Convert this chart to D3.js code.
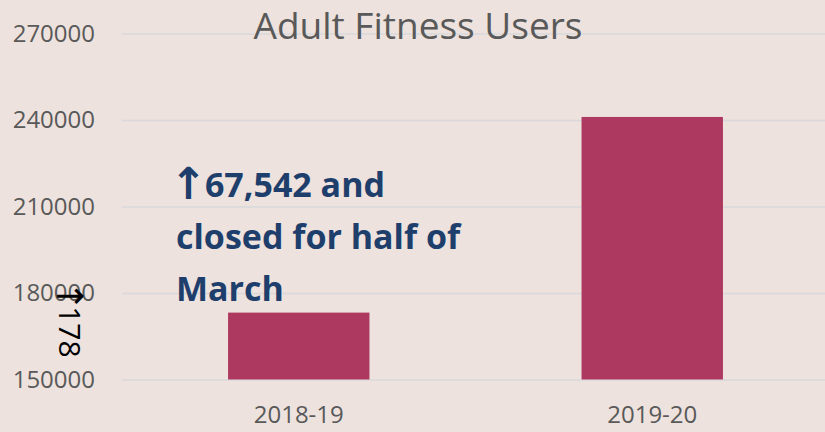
<!DOCTYPE html>
<html>
<head>
<meta charset="utf-8">
<script src="https://cdn.jsdelivr.net/npm/d3@7"></script>
<style>
  html, body { margin:0; padding:0; background:#ede2dd; }
  svg { display:block; font-family:"Open Sans", sans-serif; }
</style>
</head>
<body>
<svg class="chart"></svg>
<script>
// data
var categories = ['2018-19','2019-20'];
var users = [173200, 241050];
var yTicks = [150000,180000,210000,240000,270000];
var titleText = 'Adult Fitness Users';
var noteLines = ['67,542 and','closed for half of','March'];
var sideNote = '178';

var svgwidth = 825;
var svgheight = 432;

var margins = {
  top:33.5,
  bottom:52.5,
  left:122,
  right:-4
};

var width = svgwidth - margins.left - margins.right;
var height = svgheight - margins.top - margins.bottom;

var svg = d3.select('.chart').attr('width',svgwidth).attr('height',svgheight);

svg.append('rect').attr('width',svgwidth).attr('height',svgheight).attr('fill','#ede2dd');

var xscale = d3.scaleBand().domain(categories).range([0,width]).padding(0);
var yscale = d3.scaleLinear().domain([150000,270000]).range([height,0]);

var plot = svg.append('g')
              .attr('transform','translate('+margins.left+','+margins.top+')');

// gridlines + y labels
var yaxis = plot.append('g').classed('yaxis',true)
                .call(d3.axisLeft(yscale).tickValues(yTicks).tickSize(-width).tickPadding(27).tickFormat(d3.format('d')));
yaxis.select('.domain').remove();
yaxis.selectAll('line').attr('stroke','#d9d8dc').attr('stroke-width',1.5);
yaxis.selectAll('text')
     .attr('fill','#595959')
     .style('font-size','24px')
     .style('font-family','"Open Sans", sans-serif');

// bars
var barw = xscale.bandwidth()*0.4;
plot.selectAll('.bar').data(users).enter().append('rect')
    .classed('bar',true)
    .attr('x',function(d,i){ return xscale(categories[i]) + xscale.bandwidth()/2 - barw/2; })
    .attr('y',function(d){ return yscale(d); })
    .attr('width',barw)
    .attr('height',function(d){ return yscale(150000) - yscale(d); })
    .attr('fill','#ae3960');

// x labels
var xaxis = plot.append('g').classed('xaxis',true)
                .attr('transform','translate(0,'+height+')')
                .call(d3.axisBottom(xscale).tickSize(0).tickPadding(26));
xaxis.select('.domain').remove();
xaxis.selectAll('text')
     .attr('fill','#595959')
     .style('font-size','24px')
     .style('font-family','"Open Sans", sans-serif');

// title
svg.append('text')
   .attr('x',418)
   .attr('y',39)
   .attr('text-anchor','middle')
   .attr('fill','#595959')
   .style('font-size','37px')
   .text(titleText);

// annotation
var note = svg.append('g').selectAll('text').data(noteLines).enter().append('text')
   .attr('x',176)
   .attr('y',function(d,i){ return 197 + i*52; })
   .attr('fill','#1e3e6c')
   .style('font-size','34px')
   .style('font-weight','bold');
note.each(function(d,i){
  var t = d3.select(this);
  if(i==0){
    t.append('tspan').style('font-family','"DejaVu Sans", sans-serif').style('font-size','44px')
     .attr('dx',-6).attr('dy',2).text('\u2191');
    t.append('tspan').attr('dx',-2).attr('dy',-2).text(d);
  } else {
    t.text(d);
  }
});

// rotated side note
var side = svg.append('text')
   .attr('transform','translate(59,281) rotate(90)')
   .attr('fill','#000')
   .style('font-size','30px');
side.append('tspan').style('font-family','"DejaVu Sans", sans-serif').style('font-size','36px').attr('dy',2).text('\u2191');
side.append('tspan').attr('dx',-5).attr('dy',-2).text(sideNote);
</script>
</body>
</html>
